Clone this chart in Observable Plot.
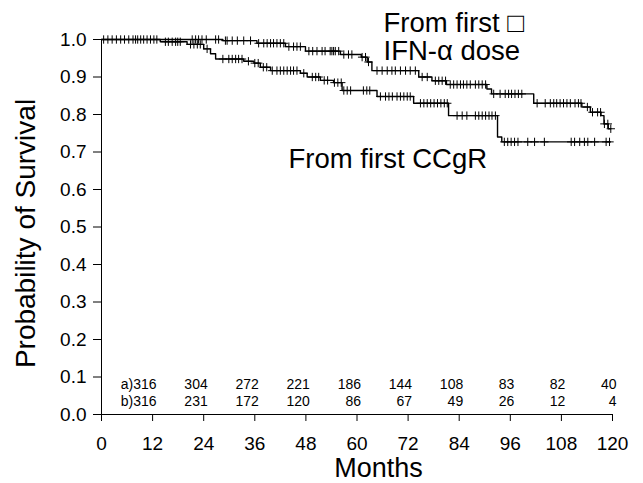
<!DOCTYPE html>
<html><head><meta charset="utf-8">
<script src="https://cdn.jsdelivr.net/npm/d3@7"></script>
<script src="https://cdn.jsdelivr.net/npm/@observablehq/plot@0.6"></script>
<style>body{margin:0;background:#fff}</style>
</head><body><div id="chart"></div>
<script>
// Curve a: from first IFN-α dose (step start times, survival after step)
const stepTimesA = [0, 28.5, 36.5, 43.2, 47.9, 56.1, 61.0, 62.4, 63.5, 74.5, 77.6, 81.0, 90.5, 91.6, 101.5, 112.8, 114.8, 117.3, 118.0, 119.0];
const survA      = [1.0, 0.997, 0.99, 0.981, 0.969, 0.96, 0.953, 0.94, 0.917, 0.90, 0.89, 0.88, 0.868, 0.855, 0.83, 0.82, 0.806, 0.797, 0.775, 0.762];
const endA = 119.6;
const censorA = [0.5, 2.5, 4.5, 6.4, 8, 9.2, 10.7, 12.3, 21.3, 22.1, 22.8, 23.6, 24.6, 26.8, 27.5, 29.1,
  29.5, 30.7, 31.9, 33.4, 35, 36.9, 38.1, 38.9, 39.7, 40.4, 41.2, 42, 42.8, 44, 45.1, 45.9, 46.7,
  48.7, 49.6, 50.6, 51.8, 52.5, 53.7, 54.1, 54.5, 54.9, 55.7, 56.9, 58, 58.8, 61.2, 62, 62.7,
  64.7, 65.9, 67.1, 68.2, 69, 70.2, 71.4, 72.5, 73.7, 75.3, 76.5, 78.4, 79.2, 80, 80.8, 81.9, 82.7,
  83.5, 84.3, 85, 85.8, 86.6, 87.8, 88.6, 89.4, 90.2, 92.1, 93.6, 94.8, 95.6, 96.3, 97.1, 97.9, 98.7,
  102.3, 104.2, 105.4, 106.2, 106.9, 107.7, 108.5, 109.3, 110.1, 111.2, 112, 112.6, 114.1, 115.3,
  116.5, 117.2, 118.1, 118.9, 119.6];

// Curve b: from first CCgR
const stepTimesB = [0, 13.8, 20.1, 24.0, 25.6, 26.8, 33.4, 35.8, 37.3, 39.7, 46.7, 48.3, 51.4, 54.5, 56.5, 64.7, 73.3, 81.5, 93.0, 94.0];
const survB      = [1.0, 0.994, 0.987, 0.975, 0.962, 0.948, 0.942, 0.937, 0.926, 0.917, 0.91, 0.90, 0.891, 0.885, 0.864, 0.848, 0.83, 0.797, 0.74, 0.727];
const endB = 119.5;
const censorB = [1.5, 3.5, 5.4, 7.4, 8.5, 9.9, 11.5, 13, 15, 15.7, 16.6, 17.4, 17.9, 18.5, 20.9, 21.7, 22.5, 23.2,
  24.8, 28.5, 29.9, 30.7, 31.5, 32.2, 33, 34.5, 36, 36.8, 38, 38.8, 40.1, 41.2, 42, 42.8, 43.6, 44.4, 45.1, 45.9,
  47.5, 49.5, 50.3, 51, 52.3, 53.1, 54.7, 55.5, 56.3, 56.9, 57.7, 58.5, 61.5, 62.3, 63,
  65.5, 66.7, 67.5, 68.3, 69.4, 70.2, 71, 71.8, 72.5, 74.9, 75.7, 76.5, 77.3, 78.1, 78.9, 79.7, 80.5, 81.2,
  83.5, 84.7, 85.8, 87.8, 88.6, 89.4, 90.2, 91, 91.7, 92.5, 94.6, 95.4, 96.2, 97, 97.8, 100.1, 101.7, 104,
  110.3, 111.1, 112.3, 113.4, 114.2, 115.8, 118.5, 119.3];

// Numbers at risk
const riskTimes = [12, 24, 36, 48, 60, 72, 84, 96, 108, 120];
const riskA = [316, 304, 272, 221, 186, 144, 108, 83, 82, 40];
const riskB = [316, 231, 172, 120, 86, 67, 49, 26, 12, 4];

const xTicks = [0, 12, 24, 36, 48, 60, 72, 84, 96, 108, 120];
const yTicks = [0, 0.1, 0.2, 0.3, 0.4, 0.5, 0.6, 0.7, 0.8, 0.9, 1.0];

const labelA1 = "From first \u25A1";
const labelA2 = "IFN-\u03B1 dose";
const labelB = "From first CCgR";
const yTitle = "Probability of Survival";
const xTitle = "Months";

function lineData(times, surv, end) {
  const pts = times.map((t, i) => ({t, s: surv[i]}));
  pts.push({t: end, s: surv[surv.length - 1]});
  return pts;
}
function survAt(times, surv, t) {
  let k = 0;
  for (let i = 0; i < times.length; i++) if (times[i] <= t) k = i;
  return surv[k];
}
const lineA = lineData(stepTimesA, survA, endA);
const lineB = lineData(stepTimesB, survB, endB);
const censA = censorA.map(t => ({t, s: survAt(stepTimesA, survA, t)}));
const censB = censorB.map(t => ({t, s: survAt(stepTimesB, survB, t)}));
const rowA = riskTimes.map((t, i) => ({t, label: (i === 0 ? "a)" : "") + riskA[i]}));
const rowB = riskTimes.map((t, i) => ({t, label: (i === 0 ? "b)" : "") + riskB[i]}));

const chart = Plot.plot({
  width: 643, height: 483,
  marginLeft: 101, marginRight: 31, marginTop: 39, marginBottom: 69,
  x: {domain: [0, 120]},
  y: {domain: [0, 1]},
  style: {fontFamily: "'Liberation Sans', Arial, Helvetica, sans-serif", color: "black", background: "white", overflow: "visible"},
  marks: [
    Plot.axisY({ticks: yTicks, tickFormat: d => d.toFixed(1), tickSize: 8, tickPadding: 7, fontSize: 19, label: null}),
    Plot.axisX({ticks: xTicks, tickFormat: d => String(d), tickSize: 7, tickPadding: 15, fontSize: 19, label: null}),
    Plot.ruleX([0], {stroke: "black"}),
    Plot.ruleY([0], {stroke: "black"}),
    Plot.line(lineA, {x: "t", y: "s", curve: "step-after", stroke: "black", strokeWidth: 1.4}),
    Plot.line(lineB, {x: "t", y: "s", curve: "step-after", stroke: "black", strokeWidth: 1.4}),
    Plot.dot(censA, {x: "t", y: "s", symbol: "plus", r: 2.8, stroke: "black", strokeWidth: 1}),
    Plot.dot(censB, {x: "t", y: "s", symbol: "plus", r: 2.8, stroke: "black", strokeWidth: 1}),
    Plot.text(rowA, {x: "t", text: "label", frameAnchor: "bottom", textAnchor: "end", lineAnchor: "bottom", dx: 4, dy: -26, fontSize: 14, fill: "black"}),
    Plot.text(rowB, {x: "t", text: "label", frameAnchor: "bottom", textAnchor: "end", lineAnchor: "bottom", dx: 4, dy: -9, fontSize: 14, fill: "black"}),
    Plot.text([labelA1], {frameAnchor: "top-left", textAnchor: "start", lineAnchor: "bottom", dx: 282, dy: -8, fontSize: 27.5, fill: "black"}),
    Plot.text([labelA2], {frameAnchor: "top-left", textAnchor: "start", lineAnchor: "bottom", dx: 282, dy: 20, fontSize: 27.5, fill: "black"}),
    Plot.text([labelB], {frameAnchor: "top-left", textAnchor: "start", lineAnchor: "bottom", dx: 187, dy: 128, fontSize: 27.5, fill: "black"}),
    Plot.text([yTitle], {frameAnchor: "left", rotate: -90, textAnchor: "middle", lineAnchor: "bottom", dx: -67, dy: 6.5, fontSize: 28, fill: "black"}),
    Plot.text([xTitle], {frameAnchor: "bottom", textAnchor: "middle", lineAnchor: "bottom", dx: 21.5, dy: 62, fontSize: 27, fill: "black"})
  ]
});
document.getElementById("chart").appendChild(chart);
</script>
</body></html>
